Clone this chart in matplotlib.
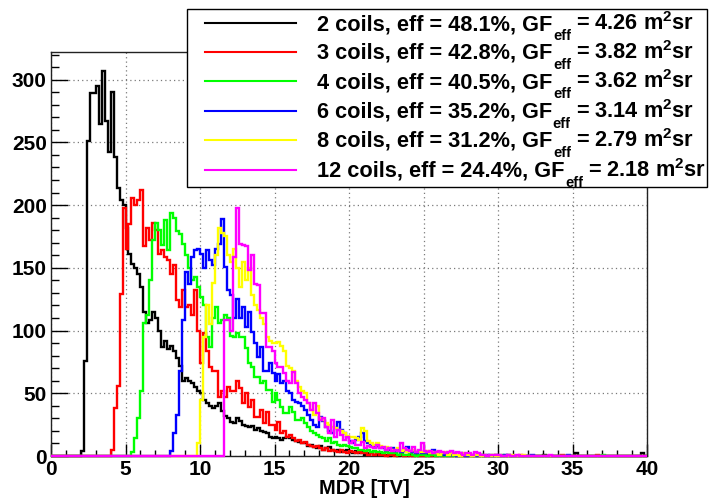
import numpy as np
import matplotlib
matplotlib.use("Agg")
import matplotlib.pyplot as plt
from matplotlib.lines import Line2D
from matplotlib.patches import Rectangle
from matplotlib.ticker import MultipleLocator

plt.rcParams['font.family'] = ['Liberation Sans', 'DejaVu Sans']
plt.rcParams['font.weight'] = 'bold'
plt.rcParams['mathtext.fontset'] = 'custom'
plt.rcParams['mathtext.rm'] = 'Liberation Sans:bold'
plt.rcParams['mathtext.it'] = 'Liberation Sans:bold'
plt.rcParams['mathtext.bf'] = 'Liberation Sans:bold'

# ---------------- data ----------------
BIN_WIDTH = 0.2
X_MIN, X_MAX = 0.0, 40.0
Y_MAX = 322

coils = [2, 3, 4, 6, 8, 12]
eff = [48.1, 42.8, 40.5, 35.2, 31.2, 24.4]
gf_eff = [4.26, 3.82, 3.62, 3.14, 2.79, 2.18]
colors = ['#000000', '#ff0000', '#00ff00', '#0000ff', '#ffff00', '#ff00ff']

# counts per 0.2 TV bin, starting at the given MDR value
black_start = 2.0
black_counts = [4, 76, 251, 289, 289,
                295, 265, 307, 267, 242,
                290, 238, 214, 204, 200,
                182, 161, 153, 150, 145,
                135, 115, 106, 108, 115,
                110, 100, 87, 92, 85,
                88, 84, 78, 72, 60,
                62, 60, 58, 55, 52,
                50, 45, 42, 40, 38,
                40, 42, 36, 32, 30,
                27, 26, 30, 28, 25,
                24, 23, 24, 21, 22,
                20, 19, 18, 15, 14,
                15, 14, 13, 14, 15,
                14, 13, 12, 11, 10,
                10, 8, 9, 7, 6,
                8, 5, 6, 7, 5,
                4, 5, 3, 4, 5,
                3, 2, 4, 2, 3,
                1, 2, 2, 1, 1,
                2, 1, 1, 0, 1,
                1, 0, 1, 0, 0,
                1, 0, 1, 0, 0,
                0, 1, 0, 0, 0,
                1, 0, 0, 0, 0,
                1, 0, 0, 0, 0,
                0, 0, 0, 0, 1]
black_tail_mdr = [30.6, 33.0, 35.2, 39.6]
black_tail_counts = [1, 1, 2, 2]

red_start = 4.0
red_counts = [5, 38, 56, 129, 198,
              165, 185, 206, 200, 204,
              212, 167, 182, 172, 186,
              180, 161, 164, 159, 156,
              145, 152, 124, 119, 132,
              119, 120, 112, 132, 100,
              74, 98, 84, 71, 68,
              68, 47, 52, 47, 55,
              52, 52, 60, 54, 42,
              50, 39, 45, 31, 31,
              37, 26, 35, 25, 25,
              21, 27, 18, 20, 15,
              17, 14, 12, 13, 10,
              11, 9, 8, 7, 8,
              6, 5, 6, 4, 5,
              4, 3, 5, 3, 2,
              4, 3, 2, 3, 2,
              2, 1, 2, 1, 2,
              1, 1, 0, 1, 1,
              0, 1, 1, 0, 1,
              0, 0, 1, 0, 0,
              1, 0, 0, 1, 0,
              0, 0, 1, 0, 0,
              0, 0, 1, 0, 0,
              0, 0, 1, 0, 0,
              0, 0, 0, 0, 1]
red_tail_mdr = [31.4, 34.2, 36.6]
red_tail_counts = [1, 1, 1]

green_start = 5.4
green_counts = [3, 14, 30,
                52, 106, 112, 140, 172,
                186, 180, 168, 188, 164,
                194, 190, 179, 177, 169,
                160, 150, 140, 143, 135,
                127, 120, 95, 87, 110,
                119, 106, 108, 112, 110,
                96, 95, 98, 95, 95,
                86, 74, 71, 63, 63,
                58, 60, 53, 53, 43,
                50, 45, 39, 34, 34,
                39, 35, 29, 29, 30,
                26, 23, 20, 18, 17,
                15, 14, 12, 14, 10,
                11, 9, 8, 9, 8,
                7, 6, 6, 5, 5,
                4, 5, 3, 4, 3,
                3, 2, 3, 2, 2,
                2, 1, 2, 1, 1,
                2, 1, 0, 1, 1,
                1, 0, 1, 1, 0,
                0, 1, 0, 0, 1,
                0, 0, 0, 1, 0,
                0, 0, 0, 1, 0,
                0, 0, 1, 0, 0]
green_tail_mdr = [30.2, 37.0]
green_tail_counts = [1, 1]

blue_start = 8.0
blue_counts = [4, 18, 33, 68, 108,
               147, 137, 159, 164, 165,
               161, 150, 164, 156, 152,
               165, 169, 189, 151, 132,
               128, 110, 125, 110, 119,
               103, 115, 99, 90, 79,
               87, 68, 68, 74, 66,
               60, 65, 58, 60, 52,
               50, 45, 43, 42, 40,
               37, 33, 29, 25, 23,
               31, 28, 23, 20, 18,
               22, 27, 21, 18, 15,
               12, 10, 13, 15, 18,
               12, 10, 8, 7, 8,
               6, 6, 5, 5, 6,
               4, 5, 3, 4, 7,
               3, 3, 2, 4, 2,
               3, 2, 2, 5, 3,
               1, 2, 1, 2, 1,
               1, 0, 2, 1, 0,
               1, 1, 0, 0, 1,
               0, 1, 0, 0, 1]
blue_tail_mdr = [30.4, 32.2, 34.6]
blue_tail_counts = [1, 1, 1]

yellow_start = 9.8
yellow_counts = [10,
                 45, 95, 120, 105, 138,
                 160, 182, 178, 175, 160,
                 155, 165, 150, 135, 155,
                 140, 150, 128, 120, 116,
                 110, 105, 95, 92, 90,
                 90, 91, 88, 84, 72,
                 70, 68, 60, 55, 52,
                 50, 42, 37, 33, 40,
                 30, 29, 26, 25, 23,
                 22, 21, 20, 18, 16,
                 15, 15, 14, 13, 22,
                 20, 12, 10, 9, 10,
                 8, 7, 7, 6, 5,
                 5, 6, 4, 5, 3,
                 4, 5, 3, 4, 3,
                 3, 4, 2, 3, 2,
                 1, 2, 3, 1, 2,
                 1, 1, 0, 2, 1,
                 1, 0, 1, 1, 0,
                 1, 0, 0, 1, 0]
yellow_tail_mdr = [30.8, 31.6]
yellow_tail_counts = [1, 1]

magenta_start = 11.6
magenta_counts = [108, 108,
                  100, 159, 198, 169, 168,
                  167, 148, 160, 137, 136,
                  114, 114, 87, 87, 84,
                  74, 71, 71, 66, 60,
                  58, 67, 58, 50, 47,
                  45, 42, 37, 42, 34,
                  29, 30, 23, 18, 29,
                  15, 21, 17, 13, 15,
                  10, 12, 9, 9, 11,
                  6, 8, 7, 6, 9,
                  6, 7, 5, 6, 4,
                  5, 4, 10, 6, 5,
                  4, 7, 3, 5, 10,
                  4, 3, 4, 2, 3,
                  4, 3, 2, 3, 4,
                  2, 3, 2, 1, 2,
                  2, 1, 3, 2, 1,
                  1, 0, 1, 1, 1]
magenta_tail_mdr = [30.0, 30.6, 31.2, 33.4]
magenta_tail_counts = [1, 1, 1, 1]

series = [
    (black_start, black_counts, black_tail_mdr, black_tail_counts),
    (red_start, red_counts, red_tail_mdr, red_tail_counts),
    (green_start, green_counts, green_tail_mdr, green_tail_counts),
    (blue_start, blue_counts, blue_tail_mdr, blue_tail_counts),
    (yellow_start, yellow_counts, yellow_tail_mdr, yellow_tail_counts),
    (magenta_start, magenta_counts, magenta_tail_mdr, magenta_tail_counts),
]

n_bins = int(round((X_MAX - X_MIN) / BIN_WIDTH))
edges = X_MIN + BIN_WIDTH * np.arange(n_bins + 1)


def build_hist(start, counts, tail_x, tail_c):
    h = np.zeros(n_bins)
    i0 = int(round((start - X_MIN) / BIN_WIDTH))
    h[i0:i0 + len(counts)] = counts
    for xv, cv in zip(tail_x, tail_c):
        h[int(round((xv - X_MIN) / BIN_WIDTH))] += cv
    return h


# ---------------- figure ----------------
W, H = 715, 501
fig = plt.figure(figsize=(W / 100, H / 100), dpi=100)
ax_l, ax_r, ax_t, ax_b = 51, 647, 52, 456
ax = fig.add_axes([ax_l / W, 1 - ax_b / H, (ax_r - ax_l) / W, (ax_b - ax_t) / H])

for (start, counts, tx, tc), col in zip(series, colors):
    h = build_hist(start, counts, tx, tc)
    ax.stairs(h, edges, color=col, linewidth=1.7, baseline=0, zorder=3, clip_on=False)

ax.set_xlim(X_MIN, X_MAX)
ax.set_ylim(0, Y_MAX)
ax.xaxis.set_major_locator(MultipleLocator(5))
ax.xaxis.set_minor_locator(MultipleLocator(1))
ax.yaxis.set_major_locator(MultipleLocator(50))
ax.yaxis.set_minor_locator(MultipleLocator(10))
ax.tick_params(axis='x', which='major', direction='in', length=9, width=1, labelsize=15, pad=3)
ax.tick_params(axis='x', which='minor', direction='in', length=4.5, width=1)
ax.tick_params(axis='y', which='major', direction='in', length=12, width=1, labelsize=15, pad=3)
ax.tick_params(axis='y', which='minor', direction='in', length=6, width=1)
for lab in ax.get_xticklabels() + ax.get_yticklabels():
    lab.set_fontweight('bold')
ax.grid(True, which='major', linestyle=(0, (1, 2.5)), color='#7a7a7a', linewidth=0.9)
ax.set_axisbelow(True)
for sp in ax.spines.values():
    sp.set_linewidth(1)
    sp.set_color('#222222')

fig.text(364 / W, 1 - 488 / H, "MDR [TV]", ha='center', va='center',
         fontsize=14.5, fontweight='bold')

# ---------------- legend ----------------
lx0, lx1, ly0, ly1 = 187, 707, 9, 187
fig.add_artist(Rectangle((lx0 / W, 1 - ly1 / H), (lx1 - lx0) / W, (ly1 - ly0) / H,
                         transform=fig.transFigure, facecolor='white',
                         edgecolor='black', linewidth=1, zorder=5))
row_y = [23, 52, 81, 110.5, 140, 170]
renderer = fig.canvas.get_renderer()
LEG_FS = 15.7
for i, (c, e, g, col) in enumerate(zip(coils, eff, gf_eff, colors)):
    yy = 1 - row_y[i] / H
    fig.add_artist(Line2D([205 / W, 296 / W], [yy, yy], transform=fig.transFigure,
                          color=col, linewidth=1.5, zorder=6))
    base = row_y[i] + 7
    t1 = fig.text(317 / W, 1 - base / H, f"{c} coils, eff = {e:.1f}%, GF",
                  ha='left', va='baseline', fontsize=LEG_FS, fontweight='bold', zorder=7)
    x1 = t1.get_window_extent(renderer).x1
    t2 = fig.text(x1 / W + 0.5 / W, 1 - (base + 10) / H, "eff",
                  ha='left', va='baseline', fontsize=10.5, fontweight='bold', zorder=7)
    x2 = t2.get_window_extent(renderer).x1
    fig.text(x2 / W + 5 / W, 1 - base / H, f"= {g:.2f} m$^{{2}}$sr",
             ha='left', va='baseline', fontsize=LEG_FS, fontweight='bold', zorder=7)

fig.savefig("out.png", dpi=100, facecolor='white')
